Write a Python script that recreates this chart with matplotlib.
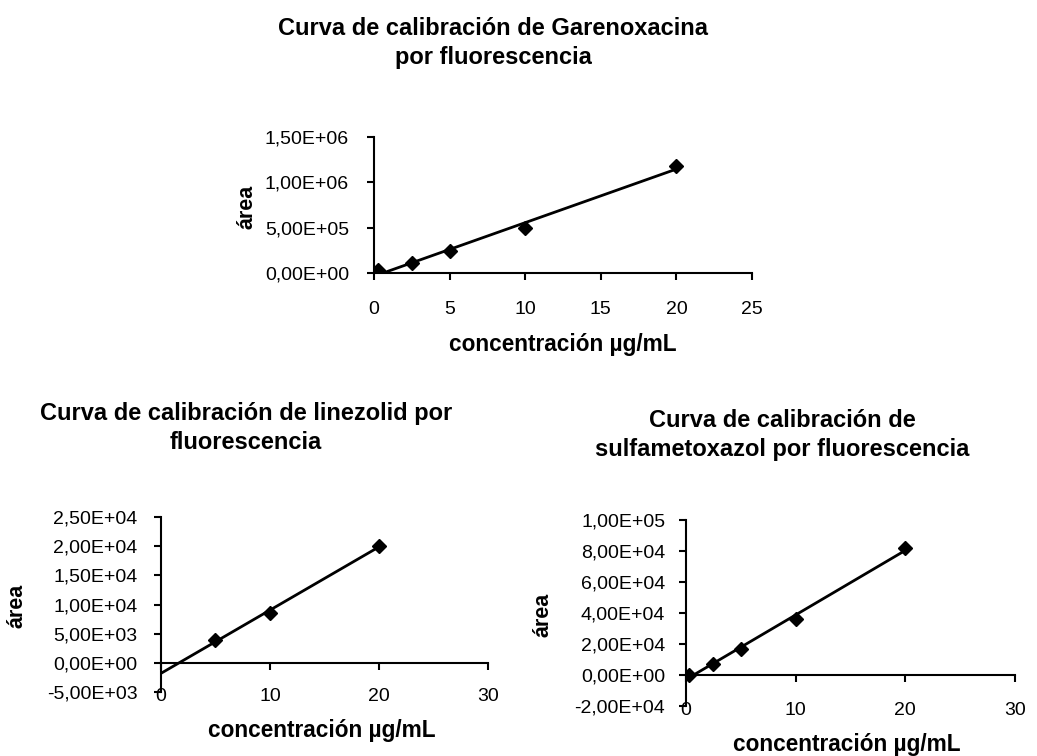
import numpy as np
import matplotlib
matplotlib.use('Agg')
import matplotlib.pyplot as plt
from matplotlib.ticker import FuncFormatter

plt.rcParams['font.family'] = ['Liberation Sans', 'DejaVu Sans']

# datos (concentracion ug/mL, area)
garen_x = [0.25, 2.5, 5, 10, 20]
garen_y = [2.9e4, 1.1e5, 2.38e5, 4.94e5, 1.182e6]

linez_x = [5, 10, 20]
linez_y = [3.98e3, 8.5e3, 2.006e4]

sulfa_x = [0.25, 2.5, 5, 10, 20]
sulfa_y = [3.0e2, 7.4e3, 1.70e4, 3.62e4, 8.19e4]

garen_yticks = [0, 5e5, 1e6, 1.5e6]
linez_yticks = [-5e3, 0, 5e3, 1e4, 1.5e4, 2e4, 2.5e4]
sulfa_yticks = [-2e4, 0, 2e4, 4e4, 6e4, 8e4, 1e5]

titulo_garen = 'Curva de calibración de Garenoxacina\npor fluorescencia'
titulo_linez = 'Curva de calibración de linezolid por\nfluorescencia'
titulo_sulfa = 'Curva de calibración de\nsulfametoxazol por fluorescencia'
eje_x = 'concentración µg/mL'
eje_y = 'área'

W, H = 1037, 756
fig = plt.figure(figsize=(W / 100, H / 100), dpi=100)


def fmt(v, pos):
    return ('%.2E' % v).replace('.', ',')


# pasa pixeles a fraccion de figura
def caja(x0, x1, y0, y1):
    return [x0 / W, 1 - y1 / H, (x1 - x0) / W, (y1 - y0) / H]


def curva(rect, xs, ys, xmax, xstep, yticks, ypad, xpad):
    ax = fig.add_axes(rect)
    ax.set_xlim(0, xmax)
    ax.set_ylim(yticks[0], yticks[-1])
    for s in ['top', 'right']:
        ax.spines[s].set_visible(False)
    ax.spines['bottom'].set_position(('data', 0))
    for s in ['left', 'bottom']:
        ax.spines[s].set_linewidth(1.5)
    ax.set_yticks(yticks)
    ax.yaxis.set_major_formatter(FuncFormatter(fmt))
    ax.set_xticks(np.arange(0, xmax + 1, xstep))
    ax.tick_params(axis='both', direction='out', length=5, width=1.5,
                   labelsize=14, colors='black')
    ax.tick_params(axis='y', pad=ypad)
    ax.tick_params(axis='x', labelbottom=False)
    # etiquetas del eje x abajo del grafico, como en excel
    sec = ax.secondary_xaxis('bottom')
    sec.spines['bottom'].set_visible(False)
    sec.set_xticks(np.arange(0, xmax + 1, xstep))
    sec.tick_params(length=0, labelsize=14, pad=xpad)

    a, b = np.polyfit(xs, ys, 1)
    xl = np.array([0, max(xs)])
    ax.plot(xl, a * xl + b, color='black', lw=2.0)
    ax.plot(xs, ys, 'D', color='black', ms=7)
    return ax


curva(caja(374, 752, 137, 273), garen_x, garen_y, 25, 5, garen_yticks, 13, 20)
curva(caja(161, 488, 517, 692), linez_x, linez_y, 30, 10, linez_yticks, 12, -3)
curva(caja(686, 1015, 520, 706), sulfa_x, sulfa_y, 30, 10, sulfa_yticks, 10, -3)

# titulos y nombres de ejes
tit = dict(ha='center', va='center', fontsize=17, fontweight='bold',
           linespacing=1.28)
fig.text(493 / W, 1 - 43 / H, titulo_garen, **tit)
fig.text(246 / W, 1 - 428 / H, titulo_linez, **tit)
fig.text(782 / W, 1 - 435 / H, titulo_sulfa, **tit)

lab = dict(ha='center', va='center', fontsize=16.3, fontweight='bold')
fig.text(563 / W, 1 - 345 / H, eje_x, **lab)
fig.text(322 / W, 1 - 730 / H, eje_x, **lab)
fig.text(847 / W, 1 - 745 / H, eje_x, **lab)

lab_y = dict(ha='center', va='center', rotation=90, fontsize=15.5,
             fontweight='bold')
fig.text(247 / W, 1 - 207 / H, eje_y, **lab_y)
fig.text(17 / W, 1 - 606 / H, eje_y, **lab_y)
fig.text(543 / W, 1 - 615 / H, eje_y, **lab_y)

fig.savefig('out.png', dpi=100, facecolor='white')
